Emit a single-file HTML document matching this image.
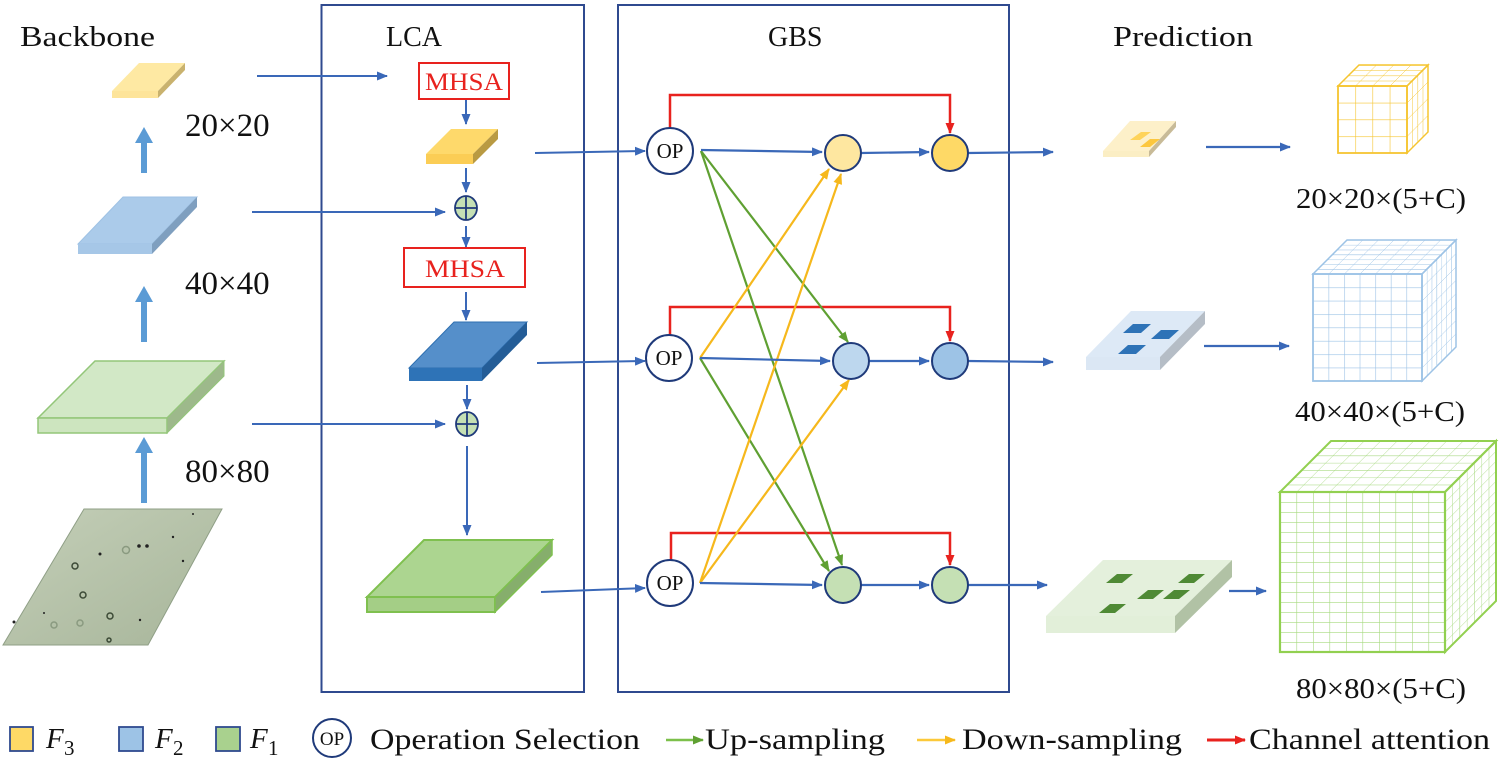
<!DOCTYPE html>
<html><head><meta charset="utf-8"><style>
html,body{margin:0;padding:0;background:#fff;}
svg{display:block;}
text{font-family:"Liberation Serif",serif;fill:#111;}
</style></head><body>
<svg width="1500" height="759" viewBox="0 0 1500 759" xmlns="http://www.w3.org/2000/svg">
<defs>
<marker id="ab" markerWidth="11" markerHeight="9" refX="10" refY="4.5" orient="auto" markerUnits="userSpaceOnUse"><path d="M0,0 L11,4.5 L0,9 z" fill="#3a68b8"/></marker>
<marker id="ag" markerWidth="11" markerHeight="9" refX="10" refY="4.5" orient="auto" markerUnits="userSpaceOnUse"><path d="M0,0 L11,4.5 L0,9 z" fill="#5fa032"/></marker>
<marker id="ay" markerWidth="11" markerHeight="9" refX="10" refY="4.5" orient="auto" markerUnits="userSpaceOnUse"><path d="M0,0 L11,4.5 L0,9 z" fill="#f6b81c"/></marker>
<marker id="ar" markerWidth="11" markerHeight="9" refX="10" refY="4.5" orient="auto" markerUnits="userSpaceOnUse"><path d="M0,0 L11,4.5 L0,9 z" fill="#e8221e"/></marker>
<linearGradient id="micro" x1="0" y1="0" x2="1" y2="1"><stop offset="0" stop-color="#c4cfb8"/><stop offset="1" stop-color="#a7b59a"/></linearGradient>
<pattern id="yF" patternUnits="userSpaceOnUse" width="17.25" height="16.75"><path d="M0,0 H17.25 M0,0 V16.75" stroke="#f5c531" stroke-width="1.2" fill="none"/></pattern>
<pattern id="yT" patternUnits="userSpaceOnUse" width="17.25" height="5.25" patternTransform="skewX(-45)"><path d="M0,0 H17.25 M0,0 V5.25" stroke="#f5c531" stroke-width="1" fill="none"/></pattern>
<pattern id="yS" patternUnits="userSpaceOnUse" width="5.25" height="16.75" patternTransform="skewY(-45)"><path d="M0,0 H5.25 M0,0 V16.75" stroke="#f5c531" stroke-width="1" fill="none"/></pattern>
<pattern id="bF" patternUnits="userSpaceOnUse" width="15.57" height="13.375"><path d="M0,0 H15.57 M0,0 V13.375" stroke="#9dc3e6" stroke-width="1.2" fill="none"/></pattern>
<pattern id="bT" patternUnits="userSpaceOnUse" width="15.57" height="4.857" patternTransform="skewX(-45)"><path d="M0,0 H15.57 M0,0 V4.857" stroke="#9dc3e6" stroke-width="1" fill="none"/></pattern>
<pattern id="bS" patternUnits="userSpaceOnUse" width="4.857" height="13.375" patternTransform="skewY(-45)"><path d="M0,0 H4.857 M0,0 V13.375" stroke="#9dc3e6" stroke-width="1" fill="none"/></pattern>
<pattern id="gF" patternUnits="userSpaceOnUse" width="16.5" height="10"><path d="M0,0 H16.5 M0,0 V10" stroke="#a6d97f" stroke-width="1.2" fill="none"/></pattern>
<pattern id="gT" patternUnits="userSpaceOnUse" width="16.5" height="7.29" patternTransform="skewX(-45)"><path d="M0,0 H16.5 M0,0 V7.29" stroke="#a6d97f" stroke-width="1" fill="none"/></pattern>
<pattern id="gS" patternUnits="userSpaceOnUse" width="7.29" height="10" patternTransform="skewY(-45)"><path d="M0,0 H7.29 M0,0 V10" stroke="#a6d97f" stroke-width="1" fill="none"/></pattern>
</defs>

<text x="20" y="46" font-size="28" textLength="135" lengthAdjust="spacingAndGlyphs">Backbone</text>
<text x="386" y="46" font-size="28">LCA</text>
<text x="768" y="46" font-size="28">GBS</text>
<text x="1113" y="46" font-size="28" textLength="140" lengthAdjust="spacingAndGlyphs">Prediction</text>

<rect x="321.5" y="5" width="262.5" height="687" fill="none" stroke="#2f4a8f" stroke-width="2"/>
<rect x="618" y="5" width="391" height="687" fill="none" stroke="#2f4a8f" stroke-width="2"/>

<polygon points="112,91 158,91 185,63 139,63" fill="#fee9a3"/>
<rect x="112" y="91" width="46" height="7" fill="#fde49a"/>
<polygon points="158,91 185,63 185,70 158,98" fill="#c9b26e"/>
<polygon points="78,244 152,244 197,197 123,197" fill="#abcbea" stroke="#9fc2e4" stroke-width="1"/>
<rect x="78" y="244" width="74" height="10" fill="#a6c7e7"/>
<polygon points="152,244 197,197 197,207 152,254" fill="#7f9fbf"/>
<polygon points="38,418 167,418 224,361 95,361" fill="#d2e8c6" stroke="#93c679" stroke-width="1.5"/>
<rect x="38" y="418" width="129" height="15" fill="#cde5bf" stroke="#93c679" stroke-width="1.5"/>
<polygon points="167,418 224,361 224,376 167,433" fill="#9db98b" stroke="#93c679" stroke-width="1"/>

<polygon points="84,509 222,509 148,645 3,645" fill="url(#micro)" stroke="#8f9f86" stroke-width="1"/>
<g fill="none" stroke="#3c4a36" stroke-width="1.5">
<circle cx="75" cy="566" r="3"/><circle cx="83" cy="595" r="3"/><circle cx="110" cy="616" r="3"/>
<circle cx="126" cy="550" r="3.5" stroke="#8a9a80"/><circle cx="80" cy="623" r="3" stroke="#8a9a80"/><circle cx="54" cy="625" r="3" stroke="#8a9a80"/>
<circle cx="109" cy="640" r="2"/>
</g>
<g fill="#222"><circle cx="139" cy="546" r="1.8"/><circle cx="147" cy="546" r="1.8"/><circle cx="100" cy="554" r="1.5"/><circle cx="173" cy="537" r="1.2"/><circle cx="183" cy="561" r="1.2"/><circle cx="140" cy="620" r="1.2"/><circle cx="44" cy="613" r="1"/><circle cx="14" cy="622" r="1.5"/><circle cx="193" cy="514" r="1"/></g>

<g fill="#5b9bd5">
<rect x="141" y="143" width="6" height="30"/><polygon points="135,143 153,143 144,127"/>
<rect x="141" y="302" width="6" height="40"/><polygon points="135,302 153,302 144,286"/>
<rect x="141" y="453" width="6" height="50"/><polygon points="135,453 153,453 144,437"/>
</g>
<text x="185" y="136" font-size="33">20×20</text>
<text x="185" y="294" font-size="33">40×40</text>
<text x="185" y="482" font-size="33">80×80</text>

<g stroke="#3a68b8" stroke-width="2" fill="none">
<line x1="257" y1="76" x2="387" y2="76" marker-end="url(#ab)"/>
<line x1="252" y1="212" x2="445" y2="212" marker-end="url(#ab)"/>
<line x1="252" y1="424" x2="445" y2="424" marker-end="url(#ab)"/>
<line x1="466" y1="100" x2="466" y2="124" marker-end="url(#ab)"/>
<line x1="466" y1="168" x2="466" y2="192" marker-end="url(#ab)"/>
<line x1="466" y1="226" x2="466" y2="247" marker-end="url(#ab)"/>
<line x1="466" y1="292" x2="466" y2="320" marker-end="url(#ab)"/>
<line x1="467" y1="385" x2="467" y2="409" marker-end="url(#ab)"/>
<line x1="467" y1="446" x2="467" y2="535" marker-end="url(#ab)"/>
</g>

<rect x="419" y="63" width="90" height="36" fill="#fff" stroke="#e8221e" stroke-width="2"/>
<text x="464" y="90" font-size="25" style="fill:#e8221e" text-anchor="middle" textLength="78" lengthAdjust="spacingAndGlyphs">MHSA</text>
<rect x="404" y="248" width="121" height="39" fill="#fff" stroke="#e8221e" stroke-width="2"/>
<text x="465" y="277" font-size="25" style="fill:#e8221e" text-anchor="middle" textLength="80" lengthAdjust="spacingAndGlyphs">MHSA</text>

<polygon points="426,154 473,154 498,129 451,129" fill="#fed96b"/>
<rect x="426" y="154" width="47" height="10" fill="#fbcd55"/>
<polygon points="473,154 498,129 498,139 473,164" fill="#b99a42"/>

<polygon points="409,368 482,368 527,322 454,322" fill="#558fca" stroke="#2e6fb0" stroke-width="1"/>
<rect x="409" y="368" width="73" height="13" fill="#2e73b7"/>
<polygon points="482,368 527,322 527,335 482,381" fill="#245d97"/>

<polygon points="367,597 495,597 552,540 424,540" fill="#acd590" stroke="#7fc04f" stroke-width="2"/>
<rect x="367" y="597" width="128" height="15" fill="#a4ce86" stroke="#7fc04f" stroke-width="2"/>
<polygon points="495,597 552,540 552,555 495,612" fill="#86ae6c" stroke="#7fc04f" stroke-width="1.5"/>

<g stroke="#1f3a7a" stroke-width="1.8">
<ellipse cx="466" cy="208" rx="11" ry="12" fill="#c5e0b4"/>
<line x1="455" y1="208" x2="477" y2="208"/><line x1="466" y1="196" x2="466" y2="220"/>
<ellipse cx="467" cy="424" rx="11" ry="12" fill="#c5e0b4"/>
<line x1="456" y1="424" x2="478" y2="424"/><line x1="467" y1="412" x2="467" y2="436"/>
</g>

<g stroke="#3a68b8" stroke-width="2" fill="none">
<line x1="535" y1="153" x2="645" y2="151" marker-end="url(#ab)"/>
<line x1="537" y1="363" x2="645" y2="361" marker-end="url(#ab)"/>
<line x1="541" y1="592" x2="645" y2="588" marker-end="url(#ab)"/>
</g>

<g stroke="#e8221e" stroke-width="2.5" fill="none">
<polyline points="670,128 670,95 950,95 950,133" marker-end="url(#ar)"/>
<polyline points="670,335 670,307 950,307 950,341" marker-end="url(#ar)"/>
<polyline points="671,560 671,533 950,533 950,565" marker-end="url(#ar)"/>
</g>

<g stroke="#5fa032" stroke-width="2.2" fill="none">
<line x1="701" y1="151" x2="848" y2="342" marker-end="url(#ag)"/>
<line x1="701" y1="151" x2="842" y2="565" marker-end="url(#ag)"/>
<line x1="700" y1="358" x2="829" y2="571" marker-end="url(#ag)"/>
</g>
<g stroke="#f6b81c" stroke-width="2.2" fill="none">
<line x1="700" y1="358" x2="829" y2="169" marker-end="url(#ay)"/>
<line x1="700" y1="583" x2="841" y2="174" marker-end="url(#ay)"/>
<line x1="700" y1="583" x2="849" y2="380" marker-end="url(#ay)"/>
</g>

<g stroke="#3a68b8" stroke-width="2.2" fill="none">
<line x1="701" y1="150" x2="822" y2="152" marker-end="url(#ab)"/>
<line x1="861" y1="153" x2="929" y2="152" marker-end="url(#ab)"/>
<line x1="700" y1="358" x2="830" y2="361" marker-end="url(#ab)"/>
<line x1="869" y1="361" x2="929" y2="361" marker-end="url(#ab)"/>
<line x1="700" y1="583" x2="822" y2="585" marker-end="url(#ab)"/>
<line x1="861" y1="585" x2="929" y2="585" marker-end="url(#ab)"/>
<line x1="968" y1="153" x2="1053" y2="152" marker-end="url(#ab)"/>
<line x1="968" y1="361" x2="1053" y2="362" marker-end="url(#ab)"/>
<line x1="968" y1="585" x2="1047" y2="585" marker-end="url(#ab)"/>
</g>

<g stroke="#1f3a7a" stroke-width="2" fill="#fff">
<circle cx="670" cy="151" r="23"/><circle cx="669" cy="358" r="23"/><circle cx="670" cy="583" r="23"/>
</g>
<g font-size="21" text-anchor="middle">
<text x="670" y="158">OP</text><text x="669" y="365">OP</text><text x="670" y="590">OP</text>
</g>
<g stroke="#1f3a7a" stroke-width="2">
<circle cx="843" cy="153" r="18" fill="#fee7a0"/>
<circle cx="950" cy="153" r="18" fill="#fed966"/>
<circle cx="851" cy="361" r="18" fill="#bdd7ee"/>
<circle cx="950" cy="361" r="18" fill="#9dc3e6"/>
<circle cx="843" cy="585" r="18" fill="#c5e0b4"/>
<circle cx="950" cy="585" r="18" fill="#c5e0b4"/>
</g>

<polygon points="1103,151 1149,151 1176,121 1130,121" fill="#fdf0c9"/>
<rect x="1103" y="151" width="46" height="6" fill="#fbeec4"/>
<polygon points="1149,151 1176,121 1176,127 1149,157" fill="#c8bb98"/>
<polygon points="1130,140 1141,132 1151,132 1140,140" fill="#fed35a"/>
<polygon points="1140,147 1150,139 1160,139 1150,147" fill="#fcc73e"/>

<polygon points="1086,357 1160,357 1205,311 1131,311" fill="#dde9f6"/>
<rect x="1086" y="357" width="74" height="13" fill="#dbe7f4"/>
<polygon points="1160,357 1205,311 1205,324 1160,370" fill="#b5bdc6"/>
<polygon points="1123,333 1133,324 1151,324 1141,333" fill="#2e73b7"/>
<polygon points="1151,339 1161,330 1179,330 1169,339" fill="#2e73b7"/>
<polygon points="1118,354 1128,345 1146,345 1136,354" fill="#2e73b7"/>

<polygon points="1046,616 1175,616 1232,560 1103,560" fill="#e4f0dc"/>
<rect x="1046" y="616" width="129" height="17" fill="#e2efd9"/>
<polygon points="1175,616 1232,560 1232,577 1175,633" fill="#b1c2a5"/>
<g fill="#4f8a35">
<polygon points="1106,583 1117,574 1133,574 1122,583"/>
<polygon points="1178,583 1189,574 1205,574 1194,583"/>
<polygon points="1137,599 1148,590 1164,590 1153,599"/>
<polygon points="1163,599 1174,590 1190,590 1179,599"/>
<polygon points="1099,613 1110,604 1126,604 1115,613"/>
</g>

<g stroke="#3a68b8" stroke-width="2.2" fill="none">
<line x1="1206" y1="147" x2="1290" y2="147" marker-end="url(#ab)"/>
<line x1="1204" y1="346" x2="1289" y2="346" marker-end="url(#ab)"/>
<line x1="1229" y1="591" x2="1266" y2="591" marker-end="url(#ab)"/>
</g>

<g transform="translate(1338,86)">
<polygon points="0,0 69,0 90,-21 21,-21" fill="url(#yT)" stroke="#f5c531" stroke-width="1.5"/>
<rect x="0" y="0" width="69" height="67" fill="url(#yF)" stroke="#f5c531" stroke-width="1.8"/>
</g>
<g transform="translate(1407,86)">
<polygon points="0,0 21,-21 21,46 0,67" fill="url(#yS)" stroke="#f5c531" stroke-width="1.5"/>
</g>
<g transform="translate(1313,274)">
<polygon points="0,0 109,0 143,-34 34,-34" fill="url(#bT)" stroke="#9dc3e6" stroke-width="1.5"/>
<rect x="0" y="0" width="109" height="107" fill="url(#bF)" stroke="#9dc3e6" stroke-width="1.8"/>
</g>
<g transform="translate(1422,274)">
<polygon points="0,0 34,-34 34,73 0,107" fill="url(#bS)" stroke="#9dc3e6" stroke-width="1.5"/>
</g>
<g transform="translate(1280,492)">
<polygon points="0,0 165,0 216,-51 51,-51" fill="url(#gT)" stroke="#92d050" stroke-width="2"/>
<rect x="0" y="0" width="165" height="160" fill="url(#gF)" stroke="#92d050" stroke-width="2.2"/>
</g>
<g transform="translate(1445,492)">
<polygon points="0,0 51,-51 51,109 0,160" fill="url(#gS)" stroke="#92d050" stroke-width="2"/>
</g>

<text x="1381" y="208" font-size="29" text-anchor="middle" textLength="170" lengthAdjust="spacingAndGlyphs">20×20×(5+C)</text>
<text x="1380" y="421" font-size="29" text-anchor="middle" textLength="170" lengthAdjust="spacingAndGlyphs">40×40×(5+C)</text>
<text x="1381" y="698" font-size="29" text-anchor="middle" textLength="170" lengthAdjust="spacingAndGlyphs">80×80×(5+C)</text>

<rect x="10" y="727" width="23" height="24" fill="#fed966" stroke="#2f4a8f" stroke-width="1.8"/>
<text x="46" y="748" font-size="29" font-style="italic">F</text><text x="64" y="755" font-size="21">3</text>
<rect x="119" y="727" width="24" height="24" fill="#9dc3e6" stroke="#2f4a8f" stroke-width="1.8"/>
<text x="155" y="748" font-size="29" font-style="italic">F</text><text x="173" y="755" font-size="21">2</text>
<rect x="216" y="727" width="24" height="24" fill="#a9d18e" stroke="#2f4a8f" stroke-width="1.8"/>
<text x="250" y="748" font-size="29" font-style="italic">F</text><text x="268" y="755" font-size="21">1</text>
<circle cx="332" cy="738" r="19" fill="#fff" stroke="#1f3a7a" stroke-width="2"/>
<text x="332" y="745" font-size="19" text-anchor="middle">OP</text>
<text x="370" y="749" font-size="30" textLength="270" lengthAdjust="spacingAndGlyphs">Operation Selection</text>
<line x1="666" y1="740" x2="703" y2="740" stroke="#7cc04a" stroke-width="2.5" marker-end="url(#ag)"/>
<text x="705" y="749" font-size="30" textLength="180" lengthAdjust="spacingAndGlyphs">Up-sampling</text>
<line x1="917" y1="740" x2="955" y2="740" stroke="#fcc93a" stroke-width="2.5" marker-end="url(#ay)"/>
<text x="962" y="749" font-size="30" textLength="220" lengthAdjust="spacingAndGlyphs">Down-sampling</text>
<line x1="1207" y1="740" x2="1245" y2="740" stroke="#e8221e" stroke-width="3" marker-end="url(#ar)"/>
<text x="1249" y="749" font-size="30" textLength="241" lengthAdjust="spacingAndGlyphs">Channel attention</text>
</svg>
</body></html>
